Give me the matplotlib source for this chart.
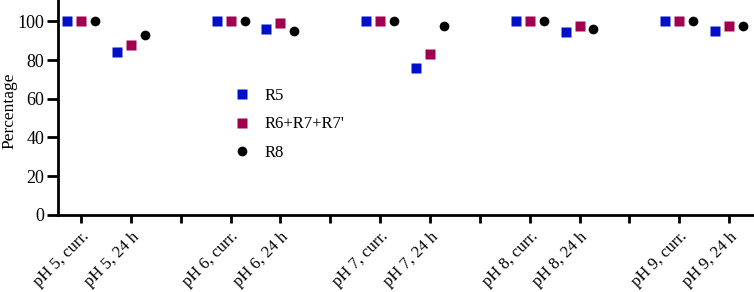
import matplotlib.pyplot as plt
import numpy as np

plt.rcParams['font.family'] = ['Liberation Serif', 'DejaVu Serif']

# categories (empty strings are the gaps between pH groups)
categories = ['pH 5, curr.', 'pH 5, 24 h', '',
              'pH 6, curr.', 'pH 6, 24 h', '',
              'pH 7, curr.', 'pH 7, 24 h', '',
              'pH 8, curr.', 'pH 8, 24 h', '',
              'pH 9, curr.', 'pH 9, 24 h']

# values only for the real categories, in order
r5 = [100, 84.4, 100, 96.2, 100, 76.1, 100, 94.5, 100, 95.2]
r6 = [100, 88.0, 100, 99.3, 100, 83.0, 100, 97.4, 100, 97.4]
r8 = [100, 92.9, 100, 95.0, 100, 97.4, 100, 96.0, 100, 97.4]

pos = np.array([i for i, c in enumerate(categories) if c])
off = 0.28

fig = plt.figure(figsize=(7.54, 2.92), dpi=100)
ax = fig.add_axes([0.077, 0.264, 0.923, 0.736])

ax.plot(pos - off, r5, 's', color='#0010c8', ms=7, mec='none', label='R5')
ax.plot(pos, r6, 's', color='#a0004f', ms=7, mec='none', label="R6+R7+R7'")
ax.plot(pos + off, r8, 'o', color='black', ms=7, mec='none', label='R8')

ax.set_xlim(-0.46, 13.5)
ax.set_ylim(0, 111)
ax.set_yticks([0, 20, 40, 60, 80, 100])
ax.set_xticks(range(len(categories)))
ax.set_xticklabels(categories, rotation=45, ha='right', rotation_mode='anchor',
                   fontsize=12)
ax.set_ylabel('Percentage', fontsize=12.5)
ax.yaxis.set_label_coords(-0.059, 0.485)

for s in ['top', 'right']:
    ax.spines[s].set_visible(False)
for s in ['left', 'bottom']:
    ax.spines[s].set_linewidth(2)
ax.tick_params(axis='both', width=2, length=6)
ax.tick_params(axis='y', length=8, pad=2, labelsize=13)
ax.tick_params(axis='x', pad=4)

ax.legend(loc='upper left', bbox_to_anchor=(0.24, 0.63), frameon=False,
          fontsize=12, markerscale=1.0, handlelength=1.0, handletextpad=0.85,
          labelspacing=0.75, borderpad=0)

fig.savefig('out.png', dpi=100)
